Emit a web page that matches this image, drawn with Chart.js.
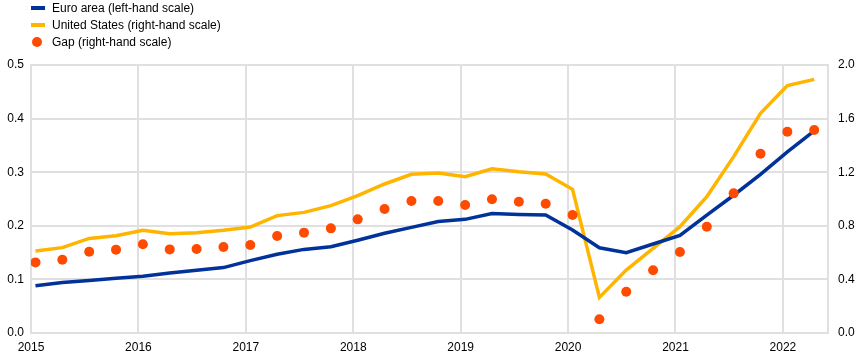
<!DOCTYPE html>
<html>
<head>
<meta charset="utf-8">
<script src="https://cdn.jsdelivr.net/npm/chart.js@4.4.1/dist/chart.umd.min.js"></script>
<style>
  html, body { margin: 0; padding: 0; background: #fff; }
  #wrap { position: relative; width: 868px; height: 359px; font-family: "Liberation Sans", Arial, sans-serif; }
  canvas { position: absolute; left: 0; top: 0; }
  .leg { position: absolute; left: 0; height: 16px; font-size: 12px; color: #000; white-space: nowrap; }
  .leg span.txt { position: absolute; left: 52px; top: 0; line-height: 16px; }
  .leg .line { position: absolute; left: 31px; top: 6px; width: 14px; height: 4px; }
  .leg .dot { position: absolute; left: 32px; top: 3px; width: 10px; height: 10px; border-radius: 50%; }
</style>
</head>
<body>
<div id="wrap">
  <canvas id="c" width="868" height="359"></canvas>
  <div class="leg" style="top:0px"><div class="line" style="background:#003299"></div><span class="txt">Euro area (left-hand scale)</span></div>
  <div class="leg" style="top:17px"><div class="line" style="background:#FFB400"></div><span class="txt">United States (right-hand scale)</span></div>
  <div class="leg" style="top:34px"><div class="dot" style="background:#FF4B00"></div><span class="txt">Gap (right-hand scale)</span></div>
</div>
<script>
// Quarterly observations, 2015Q1 - 2022Q2
const quarters = [
  "2015Q1","2015Q2","2015Q3","2015Q4",
  "2016Q1","2016Q2","2016Q3","2016Q4",
  "2017Q1","2017Q2","2017Q3","2017Q4",
  "2018Q1","2018Q2","2018Q3","2018Q4",
  "2019Q1","2019Q2","2019Q3","2019Q4",
  "2020Q1","2020Q2","2020Q3","2020Q4",
  "2021Q1","2021Q2","2021Q3","2021Q4",
  "2022Q1","2022Q2"
];
// Euro area (left-hand scale)
const euroArea = [
  0.088, 0.094, 0.098, 0.102,
  0.106, 0.112, 0.117, 0.122,
  0.135, 0.147, 0.156, 0.161,
  0.173, 0.186, 0.197, 0.208,
  0.212, 0.223, 0.221, 0.220,
  0.192, 0.159, 0.150, 0.166,
  0.182, 0.220, 0.257, 0.296,
  0.338, 0.377
];
// United States (right-hand scale)
const unitedStates = [
  0.612, 0.637, 0.706, 0.726,
  0.766, 0.741, 0.749, 0.766,
  0.791, 0.876, 0.900, 0.950,
  1.025, 1.112, 1.184, 1.194,
  1.167, 1.226, 1.204, 1.187,
  1.072, 0.266, 0.470, 0.632,
  0.793, 1.017, 1.316, 1.640,
  1.846, 1.893
];
// Gap (right-hand scale)
const gap = [
  0.527, 0.547, 0.607, 0.622,
  0.662, 0.624, 0.627, 0.642,
  0.657, 0.724, 0.749, 0.781,
  0.848, 0.925, 0.985, 0.985,
  0.955, 0.998, 0.980, 0.965,
  0.881, 0.102, 0.308, 0.468,
  0.604, 0.793, 1.042, 1.338,
  1.502, 1.515
];
const yearTicks = [2015, 2016, 2017, 2018, 2019, 2020, 2021, 2022];

function qToX(q) {
  const y = parseInt(q.slice(0, 4), 10);
  const n = parseInt(q.slice(5), 10);
  return y + (n - 1) / 4 + 1 / 24;
}
function pts(arr) { return arr.map((v, i) => ({ x: qToX(quarters[i]), y: v })); }

Chart.defaults.font.family = '"Liberation Sans", Arial, sans-serif';
Chart.defaults.font.size = 12;
Chart.defaults.color = '#000';

const gridColor = '#e0e0e0';

new Chart(document.getElementById('c'), {
  type: 'line',
  data: {
    datasets: [
      { label: 'Gap (right-hand scale)', data: pts(gap), yAxisID: 'yR', showLine: false,
        pointRadius: 5, pointHoverRadius: 5, pointBackgroundColor: '#FF4B00', pointBorderWidth: 0,
        borderColor: '#FF4B00', backgroundColor: '#FF4B00', order: 0 },
      { label: 'Euro area (left-hand scale)', data: pts(euroArea), yAxisID: 'yL',
        borderColor: '#003299', borderWidth: 3.5, pointRadius: 0, tension: 0, order: 1 },
      { label: 'United States (right-hand scale)', data: pts(unitedStates), yAxisID: 'yR',
        borderColor: '#FFB400', borderWidth: 3.5, pointRadius: 0, tension: 0, order: 2 }
    ]
  },
  options: {
    responsive: false,
    animation: false,
    devicePixelRatio: 1,
    layout: { padding: { top: 65, left: 0, right: 0, bottom: 0 } },
    plugins: { legend: { display: false }, tooltip: { enabled: false } },
    scales: {
      x: {
        type: 'linear', min: 2015, max: 2022.42,
        afterBuildTicks: (s) => { s.ticks = yearTicks.map(v => ({ value: v })); },
        afterFit: (s) => { s.height = 26; },
        ticks: { padding: 7, autoSkip: false, maxRotation: 0, callback: (v) => String(v) },
        grid: { color: gridColor, lineWidth: 2, drawTicks: false },
        border: { color: gridColor, width: 2 }
      },
      yL: {
        position: 'left', min: 0, max: 0.5,
        afterFit: (s) => { s.width = 31; },
        ticks: { stepSize: 0.1, padding: 7, callback: (v) => v.toFixed(1) },
        grid: { color: gridColor, lineWidth: 2, drawTicks: false },
        border: { color: gridColor, width: 2 }
      },
      yR: {
        position: 'right', min: 0, max: 2,
        afterFit: (s) => { s.width = 40; },
        ticks: { stepSize: 0.4, padding: 10, callback: (v) => v.toFixed(1) },
        grid: { drawOnChartArea: false, drawTicks: false },
        border: { color: gridColor, width: 2 }
      }
    }
  }
});
</script>
</body>
</html>
